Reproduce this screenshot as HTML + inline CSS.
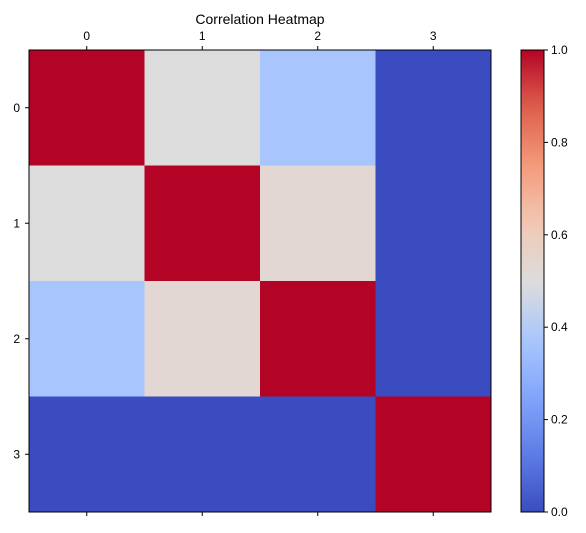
<!DOCTYPE html>
<html><head><meta charset="utf-8"><style>
body{margin:0;background:#fff;font-family:"Liberation Sans","DejaVu Sans",sans-serif;}
</style></head><body>
<svg id="chart" width="586" height="528" xmlns="http://www.w3.org/2000/svg">
<defs><linearGradient id="cw" x1="0" y1="1" x2="0" y2="0"></linearGradient></defs>
</svg>
<script>
const labels = ["0","1","2","3"];
const matrix = [
  [1.0, 0.5, 0.37, 0.0],
  [0.5, 1.0, 0.53, 0.0],
  [0.37, 0.53, 1.0, 0.0],
  [0.0, 0.0, 0.0, 1.0]
];
const cbTicks = [0.0,0.2,0.4,0.6,0.8,1.0];
const cbTickLabels = ["0.0","0.2","0.4","0.6","0.8","1.0"];

const stops=[[59,76,192],[94,125,230],[130,165,251],[170,199,253],[221,220,220],[242,200,180],[244,154,123],[222,96,77],[180,4,38]];
function cmap(v){v=Math.max(0,Math.min(1,v));const t=v*8;const i=Math.min(7,Math.floor(t));const f=t-i;
 const a=stops[i],b=stops[i+1];return `rgb(${a.map((c,k)=>Math.round(c+(b[k]-c)*f)).join(',')})`;}
const NS="http://www.w3.org/2000/svg";
const svg=document.getElementById('chart');
function el(tag,attrs,parent){const e=document.createElementNS(NS,tag);for(const k in attrs)e.setAttribute(k,attrs[k]);(parent||svg).appendChild(e);return e;}
const X0=29,Y0=50,W=462,H=462,n=labels.length,cw=W/n,ch=H/n;
const xs=i=>X0+i*cw, ys=j=>Y0+j*ch;
matrix.forEach((row,r)=>row.forEach((v,c)=>{
 const e=el('rect',{x:xs(c),y:ys(r),width:cw+0.5,height:ch+0.5,fill:cmap(v)});
 
 
}));
const fr=el('rect',{x:X0,y:Y0,width:W,height:H,fill:'none',stroke:'#000','stroke-width':1});


labels.forEach((l,i)=>{
 const cx=xs(i)+cw/2, cy=ys(i)+ch/2;
 el('line',{x1:cx,y1:Y0,x2:cx,y2:Y0-4,stroke:'#000'});
 el('line',{x1:cx,y1:Y0+H,x2:cx,y2:Y0+H+4,stroke:'#000'});
 el('line',{x1:X0,y1:cy,x2:X0-4,y2:cy,stroke:'#000'});
 const t=el('text',{x:cx,y:Y0-10,'text-anchor':'middle','font-size':12});t.textContent=l;
 
 
 const t2=el('text',{x:X0-9,y:cy+4,'text-anchor':'end','font-size':12});t2.textContent=l;
 
 
});
const title=el('text',{x:X0+W/2,y:24,'text-anchor':'middle','font-size':14});title.textContent='Correlation Heatmap';


const grad=document.getElementById('cw');
for(let k=0;k<=20;k++){el('stop',{offset:(k/20),'stop-color':cmap(k/20)},grad);}
const CX=521,CW=23,CY=50,CH=462;
const cb=el('rect',{x:CX,y:CY,width:CW,height:CH,fill:'url(#cw)',stroke:'#000','stroke-width':1});


const cbY=v=>CY+CH-v*CH;
cbTicks.forEach((v,i)=>{
 el('line',{x1:CX+CW,y1:cbY(v),x2:CX+CW+4,y2:cbY(v),stroke:'#000'});
 const t=el('text',{x:CX+CW+7,y:cbY(v)+4,'font-size':12});t.textContent=cbTickLabels[i];
 
 
});
</script>
</body></html>
